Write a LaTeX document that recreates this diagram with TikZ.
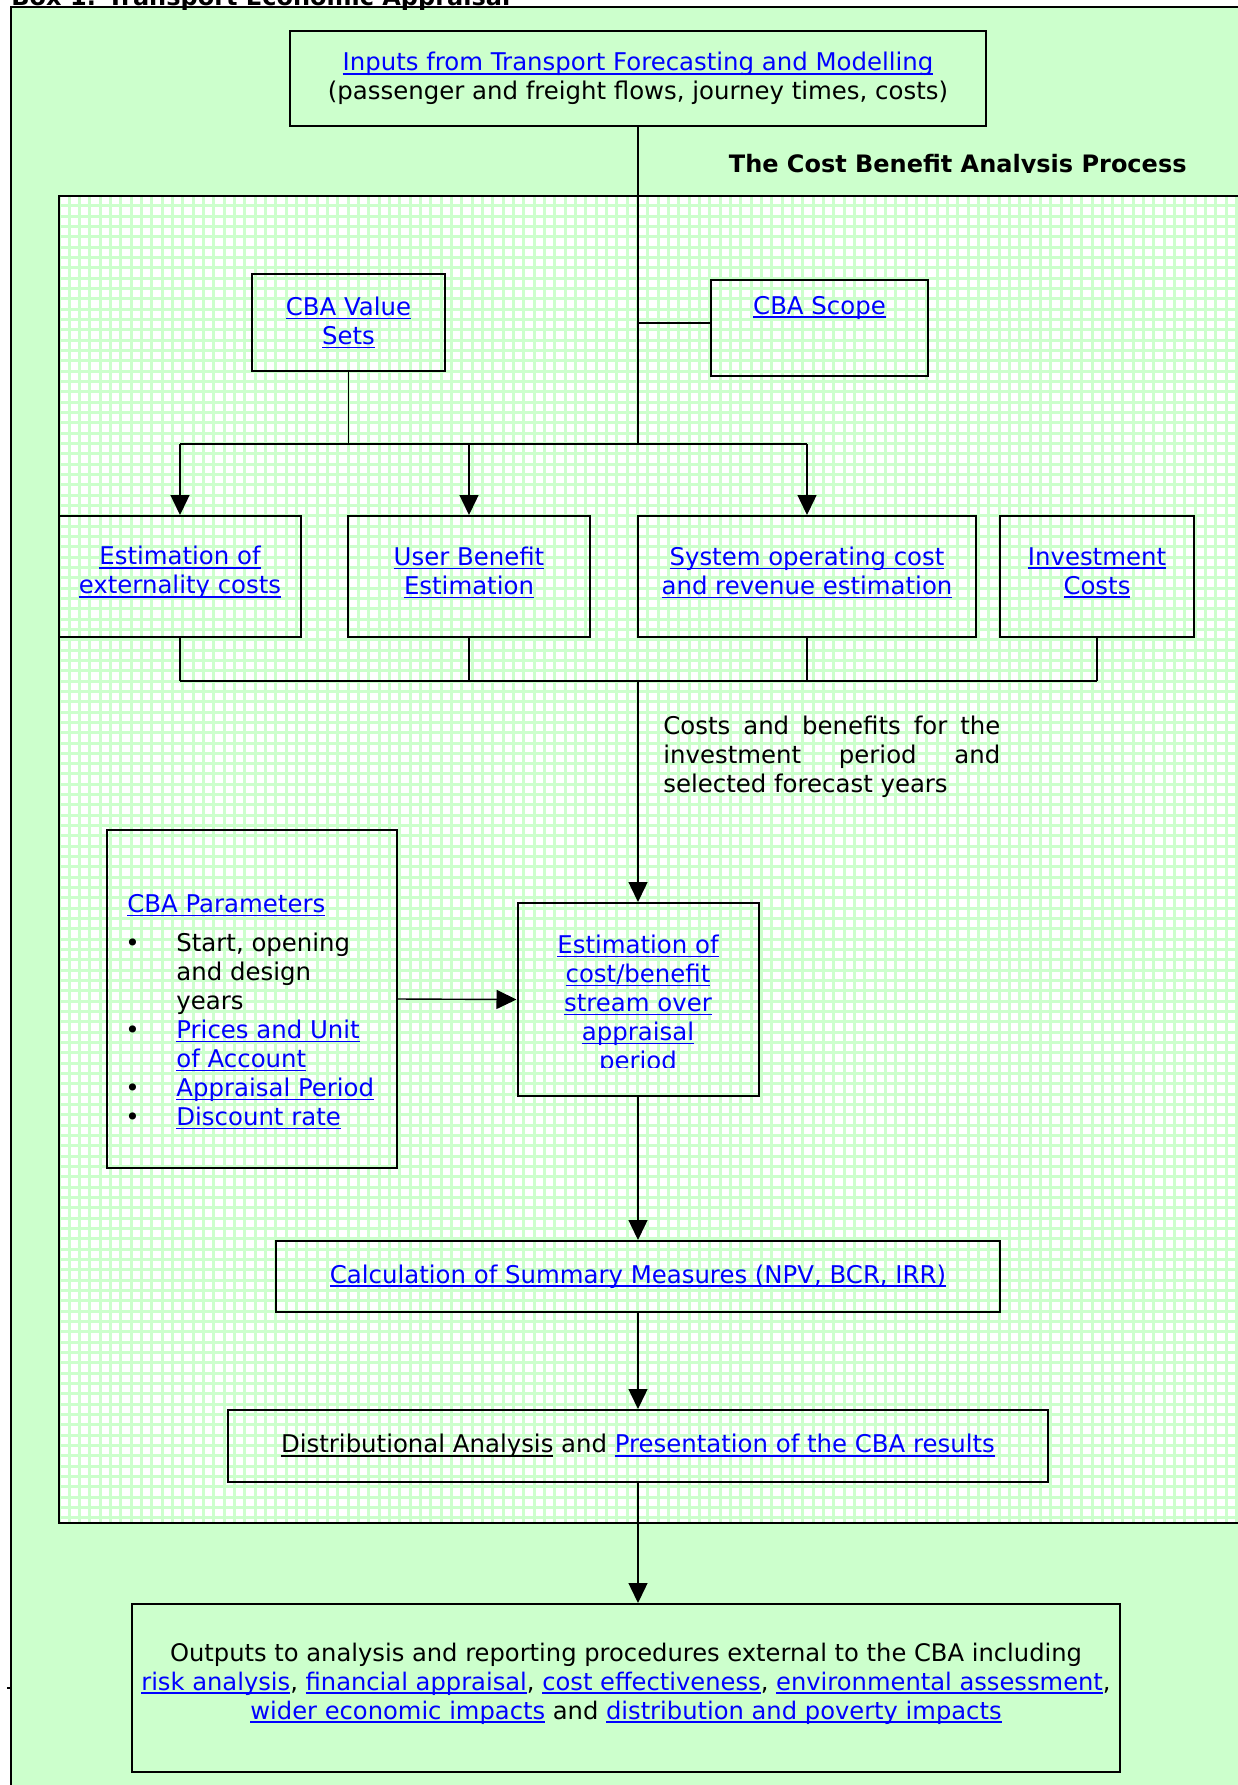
\documentclass[tikz,border=0pt]{standalone}
\usepackage{fontspec}
\setmainfont{DejaVu Sans}
\usepackage{xcolor}
\usetikzlibrary{arrows.meta,positioning,calc}
\definecolor{PageGreen}{HTML}{CCFFCC}
\definecolor{GridGreen}{HTML}{CCFFCC}
\definecolor{LinkBlue}{HTML}{0000FF}
\newsavebox{\ulbox}
\newcommand{\uln}[1]{\sbox\ulbox{#1}\rlap{\rule[-1.9pt]{\wd\ulbox}{0.8pt}}\usebox\ulbox}
\newcommand{\lnk}[1]{\textcolor{LinkBlue}{\uln{#1}}}
\newcommand{\bul}{\makebox[24.5pt][l]{\hspace{-1pt}\textbullet}}
\newcommand{\itemind}{\hspace*{24.5pt}}
\tikzset{
  BX/.style={rectangle,draw=black,line width=1pt,inner sep=0pt,
             align=center,font=\fontsize{12.2}{14.5}\selectfont},
  TX/.style={inner sep=0pt,font=\fontsize{12.2}{14.5}\selectfont},
  TB/.style={inner sep=0pt,font=\fontsize{12}{14.5}\selectfont\bfseries},
  TU/.style={TX,align=center,yshift=2pt},
  ln/.style={line width=0.7pt},
  arr/.style={-{Triangle[length=10pt,width=9.5pt]},line width=0.7pt}
}

\begin{document}
\begin{tikzpicture}[x=0.5pt,y=-0.5pt]
  \useasboundingbox (0,0) rectangle (1238,1785);
  \clip (0,0) rectangle (1238,1785);

  % outer box
  \draw[fill=PageGreen,line width=1pt] (10.5,6.5) rectangle (1260,1800);
  \node[TB,anchor=base west] (boxtitle) at (11,5) {Box 1: Transport Economic Appraisal};
  \draw[ln] (7,1688) -- (10.5,1688);

  % grid panel
  \fill[white] (59,195.5) rectangle (1260,1523);
  \begin{scope}
    \clip (59,195.5) rectangle (1260,1523);
    \draw[GridGreen,line width=1.5pt,step=5.165pt,shift={(59,195.5)}] (0,0) grid (1210,1330);
  \end{scope}
  \draw[line width=1pt] (59,195.5) rectangle (1260,1523);

  \begin{scope}
    \clip (600,120) rectangle (1238,172.5);
    \node[TB,anchor=base east] (cbatitle) at (1187,172) {The Cost Benefit Analysis Process};
  \end{scope}

  \node[BX,minimum width=348pt,minimum height=47.5pt] (inp) at (638,78.5)
    {\lnk{Inputs from Transport Forecasting and Modelling}\\(passenger and freight flows, journey times, costs)};

  \node[BX,minimum width=96.5pt,minimum height=48.5pt] (val) at (348.5,322.5) {\lnk{CBA Value}\\\lnk{Sets}};
  \node[BX,minimum width=108.5pt,minimum height=48pt] (cbascope) at (819.5,328) {};
  \node[TX] (scopetxt) at ($(cbascope.north)+(0,28.5)$) {\lnk{CBA Scope}};

  \node[BX,minimum width=121pt,minimum height=60.5pt,
        label={[TU]center:{\lnk{Estimation of}\\\lnk{externality costs}}}] (ext) at (180,576.5) {};
  \node[BX,minimum width=121pt,minimum height=60.5pt,right=22.5pt of ext,
        label={[TU]center:{\lnk{User Benefit}\\\lnk{Estimation}}}] (ube) {};
  \node[BX,minimum width=169pt,minimum height=60.5pt,right=23pt of ube,
        label={[TU]center:{\lnk{System operating cost}\\\lnk{and revenue estimation}}}] (sys) {};
  \node[BX,minimum width=97pt,minimum height=60.5pt,right=11pt of sys,
        label={[TU]center:{\lnk{Investment}\\\lnk{Costs}}}] (inv) {};

  \coordinate (jt) at (638,444);
  \coordinate (jb) at (638,681);

  \node[TX,text width=168.5pt,align=justify,anchor=west] (cbnote) at (663,757)
    {Costs and benefits for the\linebreak investment period and\linebreak selected forecast years};

  \node[BX,minimum width=145pt,minimum height=169pt] (params) at (252,999) {};
  \node[TX,align=left,anchor=west] (paramstxt) at (127,1012)
    {\lnk{CBA Parameters}\\[5pt]
     \bul Start, opening\\
     \itemind and design\\
     \itemind years\\
     \bul\lnk{Prices and Unit}\\
     \itemind\lnk{of Account}\\
     \bul\lnk{Appraisal Period}\\
     \bul\lnk{Discount rate}};

  \node[BX,minimum width=120.5pt,minimum height=96.5pt] (est) at (638,999.5) {};
  \begin{scope}
    \clip (518,903) rectangle (759,1067.5);
    \node[TX,align=center] (esttxt) at (638,1004.7)
      {\lnk{Estimation of}\\\lnk{cost/benefit}\\\lnk{stream over}\\\lnk{appraisal}\\\lnk{period}};
  \end{scope}

  \node[BX,minimum width=362pt,minimum height=35.5pt] (summ) at (638,1276.5)
    {\lnk{Calculation of Summary Measures (NPV, BCR, IRR)}};
  \node[BX,minimum width=410pt,minimum height=36pt] (dist) at (638,1446)
    {\uln{Distributional Analysis} and \lnk{Presentation of the CBA results}};
  \node[BX,minimum width=494pt,minimum height=84pt,
        label={[TU,yshift=0.3pt,font=\fontsize{12.1}{14.5}\selectfont]center:{Outputs to analysis and reporting procedures external to the CBA including\\
     \lnk{risk analysis}, \lnk{financial appraisal}, \lnk{cost effectiveness}, \lnk{environmental assessment},\\
     \lnk{wider economic impacts} and \lnk{distribution and poverty impacts}}}] (outp) at (626,1688) {};

  % connectors
  \draw[ln] (inp.south) -- (jt);
  \draw[ln] ($(jt |- cbascope.west)+(0,-5)$) -- ($(cbascope.west)+(0,-5)$);
  \draw[ln] (val.south) -- (val.south |- jt);
  \draw[ln] (ext.north |- jt) -- (sys.north |- jt);
  \foreach \n in {ext,ube,sys} \draw[arr] (\n.north |- jt) -- (\n.north);
  \foreach \n in {ext,ube,sys,inv} \draw[ln] (\n.south) -- (\n.south |- jb);
  \draw[ln] (ext.south |- jb) -- (inv.south |- jb);
  \draw[arr] (jb) -- (est.north);
  \draw[arr] (params.east) -- (est.west);
  \draw[arr] (est.south) -- (summ.north);
  \draw[arr] (summ.south) -- (dist.north);
  \draw[arr] (dist.south) -- (dist.south |- outp.north);
\end{tikzpicture}
\end{document}
